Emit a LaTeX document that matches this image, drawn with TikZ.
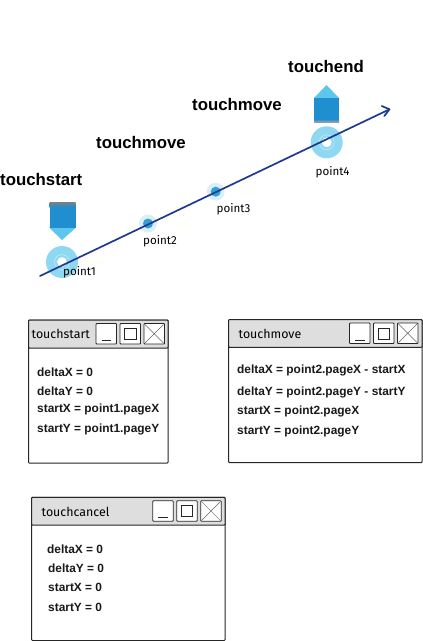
\documentclass[tikz,border=0pt]{standalone}
\usepackage{fontspec}
\setmainfont{Liberation Sans}
\newfontfamily\handfont{Fira Sans}
\definecolor{pathblue}{HTML}{1F3A8C}
\definecolor{pinblue}{HTML}{1F8FD0}
\definecolor{pinlight}{HTML}{5CC6EE}
\definecolor{ringblue}{HTML}{8FD8F2}
\definecolor{halo}{HTML}{DCEFF6}
\definecolor{dotblue}{HTML}{2FA0D8}
\definecolor{titlegrey}{HTML}{DEDEDE}
\tikzset{
  evlabel/.style={font=\fontsize{16.8}{20}\selectfont\bfseries,inner sep=0pt,anchor=base west},
  ptlabel/.style={font=\handfont\fontsize{11.6}{13}\selectfont,inner sep=0pt,anchor=base west},
  winframe/.style={draw=black!85,line width=1pt,fill=white,rounded corners=0.8pt},
  wintitle/.style={draw=black!85,line width=1pt,fill=titlegrey,rounded corners=0.8pt},
  winbtn/.style={draw=black!85,line width=0.8pt,fill=white,rounded corners=0.8pt},
  wintext/.style={font=\fontsize{11.9}{14}\selectfont\bfseries,inner sep=0pt,anchor=base west,text=black!90},
  wincap/.style={font=\handfont\fontsize{12.4}{14}\selectfont,inner sep=0pt,anchor=base west},
  ghost/.style={font=\fontsize{10}{12}\selectfont,inner sep=0pt,anchor=base west,text=yellow!6},
}
\newcommand{\winbox}[6]{% x1,y1,x2,y2,titlebottom,button left x
  \draw[winframe] (#1,#2) rectangle (#3,#4);
  \draw[wintitle] (#1,#2) rectangle (#3,#5);
  \begin{scope}[shift={(#6,#2+3.5)}]
    \draw[winbtn] (0,0) rectangle (20.5,20.5);
    \draw[black!85,line width=0.8pt] (5.5,17) -- (15,17);
    \draw[winbtn] (24,0) rectangle (44.5,20.5);
    \draw[black!85,line width=0.8pt] (28.5,5) rectangle (40,16);
    \draw[winbtn] (48,0) rectangle (68.5,20.5);
    \draw[black!60,line width=0.5pt] (49,1) -- (67.5,19.5) (67.5,1) -- (49,19.5);
  \end{scope}
}
\begin{document}
\begin{tikzpicture}[x=1pt,y=-1pt]
\useasboundingbox (0,0) rectangle (423,641);
% point markers
\fill[ringblue,even odd rule] (62,262) circle (16) (62,262) circle (5);
\draw[white,opacity=.45,line width=.6pt] (62,262) circle (7.5);
\fill[ringblue,even odd rule] (326.7,142.3) circle (16) (326.7,142.3) circle (5);
\draw[white,opacity=.45,line width=.6pt] (326.7,142.3) circle (7.5);
\fill[halo] (148,223.5) circle (9);
\fill[dotblue] (148,223.5) circle (5);
\fill[halo] (215.7,191.7) circle (9);
\fill[dotblue] (215.7,191.7) circle (5);
% pins
\fill[pinlight] (49.5,226) -- (75.5,226) -- (75.5,228) -- (62,240) -- (49.5,228) -- cycle;
\fill[pinblue] (49.5,207) rectangle (75.5,228);
\shade[top color=black!50,bottom color=pinblue] (49.5,202) rectangle (75.5,207);
\fill[pinlight] (314,98) -- (326.5,85) -- (339,98) -- cycle;
\fill[pinblue] (314,97.7) rectangle (339,119);
\shade[top color=pinblue,bottom color=black!35] (314,119) rectangle (339,122.5);
% trajectory
\coordinate (pathstart) at (40,276);
\coordinate (pathend) at (389.5,109.3);
\draw[pathblue,line width=1.7pt,line cap=round] (pathstart) -- (pathend);
\draw[pathblue,line width=1.7pt,line cap=round,line join=round] (381.7,106) -- (pathend) -- (384.3,116);
% ghost labels
\node[ghost] (g1) at (80,264) {Radio};
\node[ghost] (g2) at (168,227) {Radio};
\node[ghost] (g3) at (235,194) {Radio};
\node[ghost] (g4) at (346,145) {Radio};
% event labels
\node[evlabel] (ev1) at (0,185) {touchstart};
\node[evlabel] (ev2) at (96,148) {touchmove};
\node[evlabel] (ev3) at (192,110) {touchmove};
\node[evlabel] (ev4) at (288,72.5) {touchend};
% point labels
\node[ptlabel] (p1) at (63,275) {point1};
\node[ptlabel] (p2) at (143,244) {point2};
\node[ptlabel] (p3) at (216.5,212) {point3};
\node[ptlabel] (p4) at (315.5,175) {point4};
% windows
\winbox{28.5}{320}{168}{463}{348}{96}
\node[wincap] (c1) at (31.5,338) {touchstart};
\node[wintext] (a1) at (37,376) {deltaX = 0};
\node[wintext] (a2) at (37,395) {deltaY = 0};
\node[wintext] (a3) at (37,412) {startX = point1.pageX};
\node[wintext] (a4) at (37,432) {startY = point1.pageY};
\winbox{228.7}{319.5}{422}{462.7}{347.3}{349.5}
\node[wincap] (c2) at (238.5,338) {touchmove};
\node[wintext] (b1) at (237,373.5) {deltaX = point2.pageX - startX};
\node[wintext] (b2) at (237,395.5) {deltaY = point2.pageY - startY};
\node[wintext] (b3) at (237,414) {startX = point2.pageX};
\node[wintext] (b4) at (237,434) {startY = point2.pageY};
\winbox{31.7}{497.3}{225}{640.5}{525}{152.7}
\node[wincap] (c3) at (41.5,516) {touchcancel};
\node[wintext] (d1) at (47,553) {deltaX = 0};
\node[wintext] (d2) at (48,572) {deltaY = 0};
\node[wintext] (d3) at (48,591) {startX = 0};
\node[wintext] (d4) at (48,611) {startY = 0};
\end{tikzpicture}
\end{document}
